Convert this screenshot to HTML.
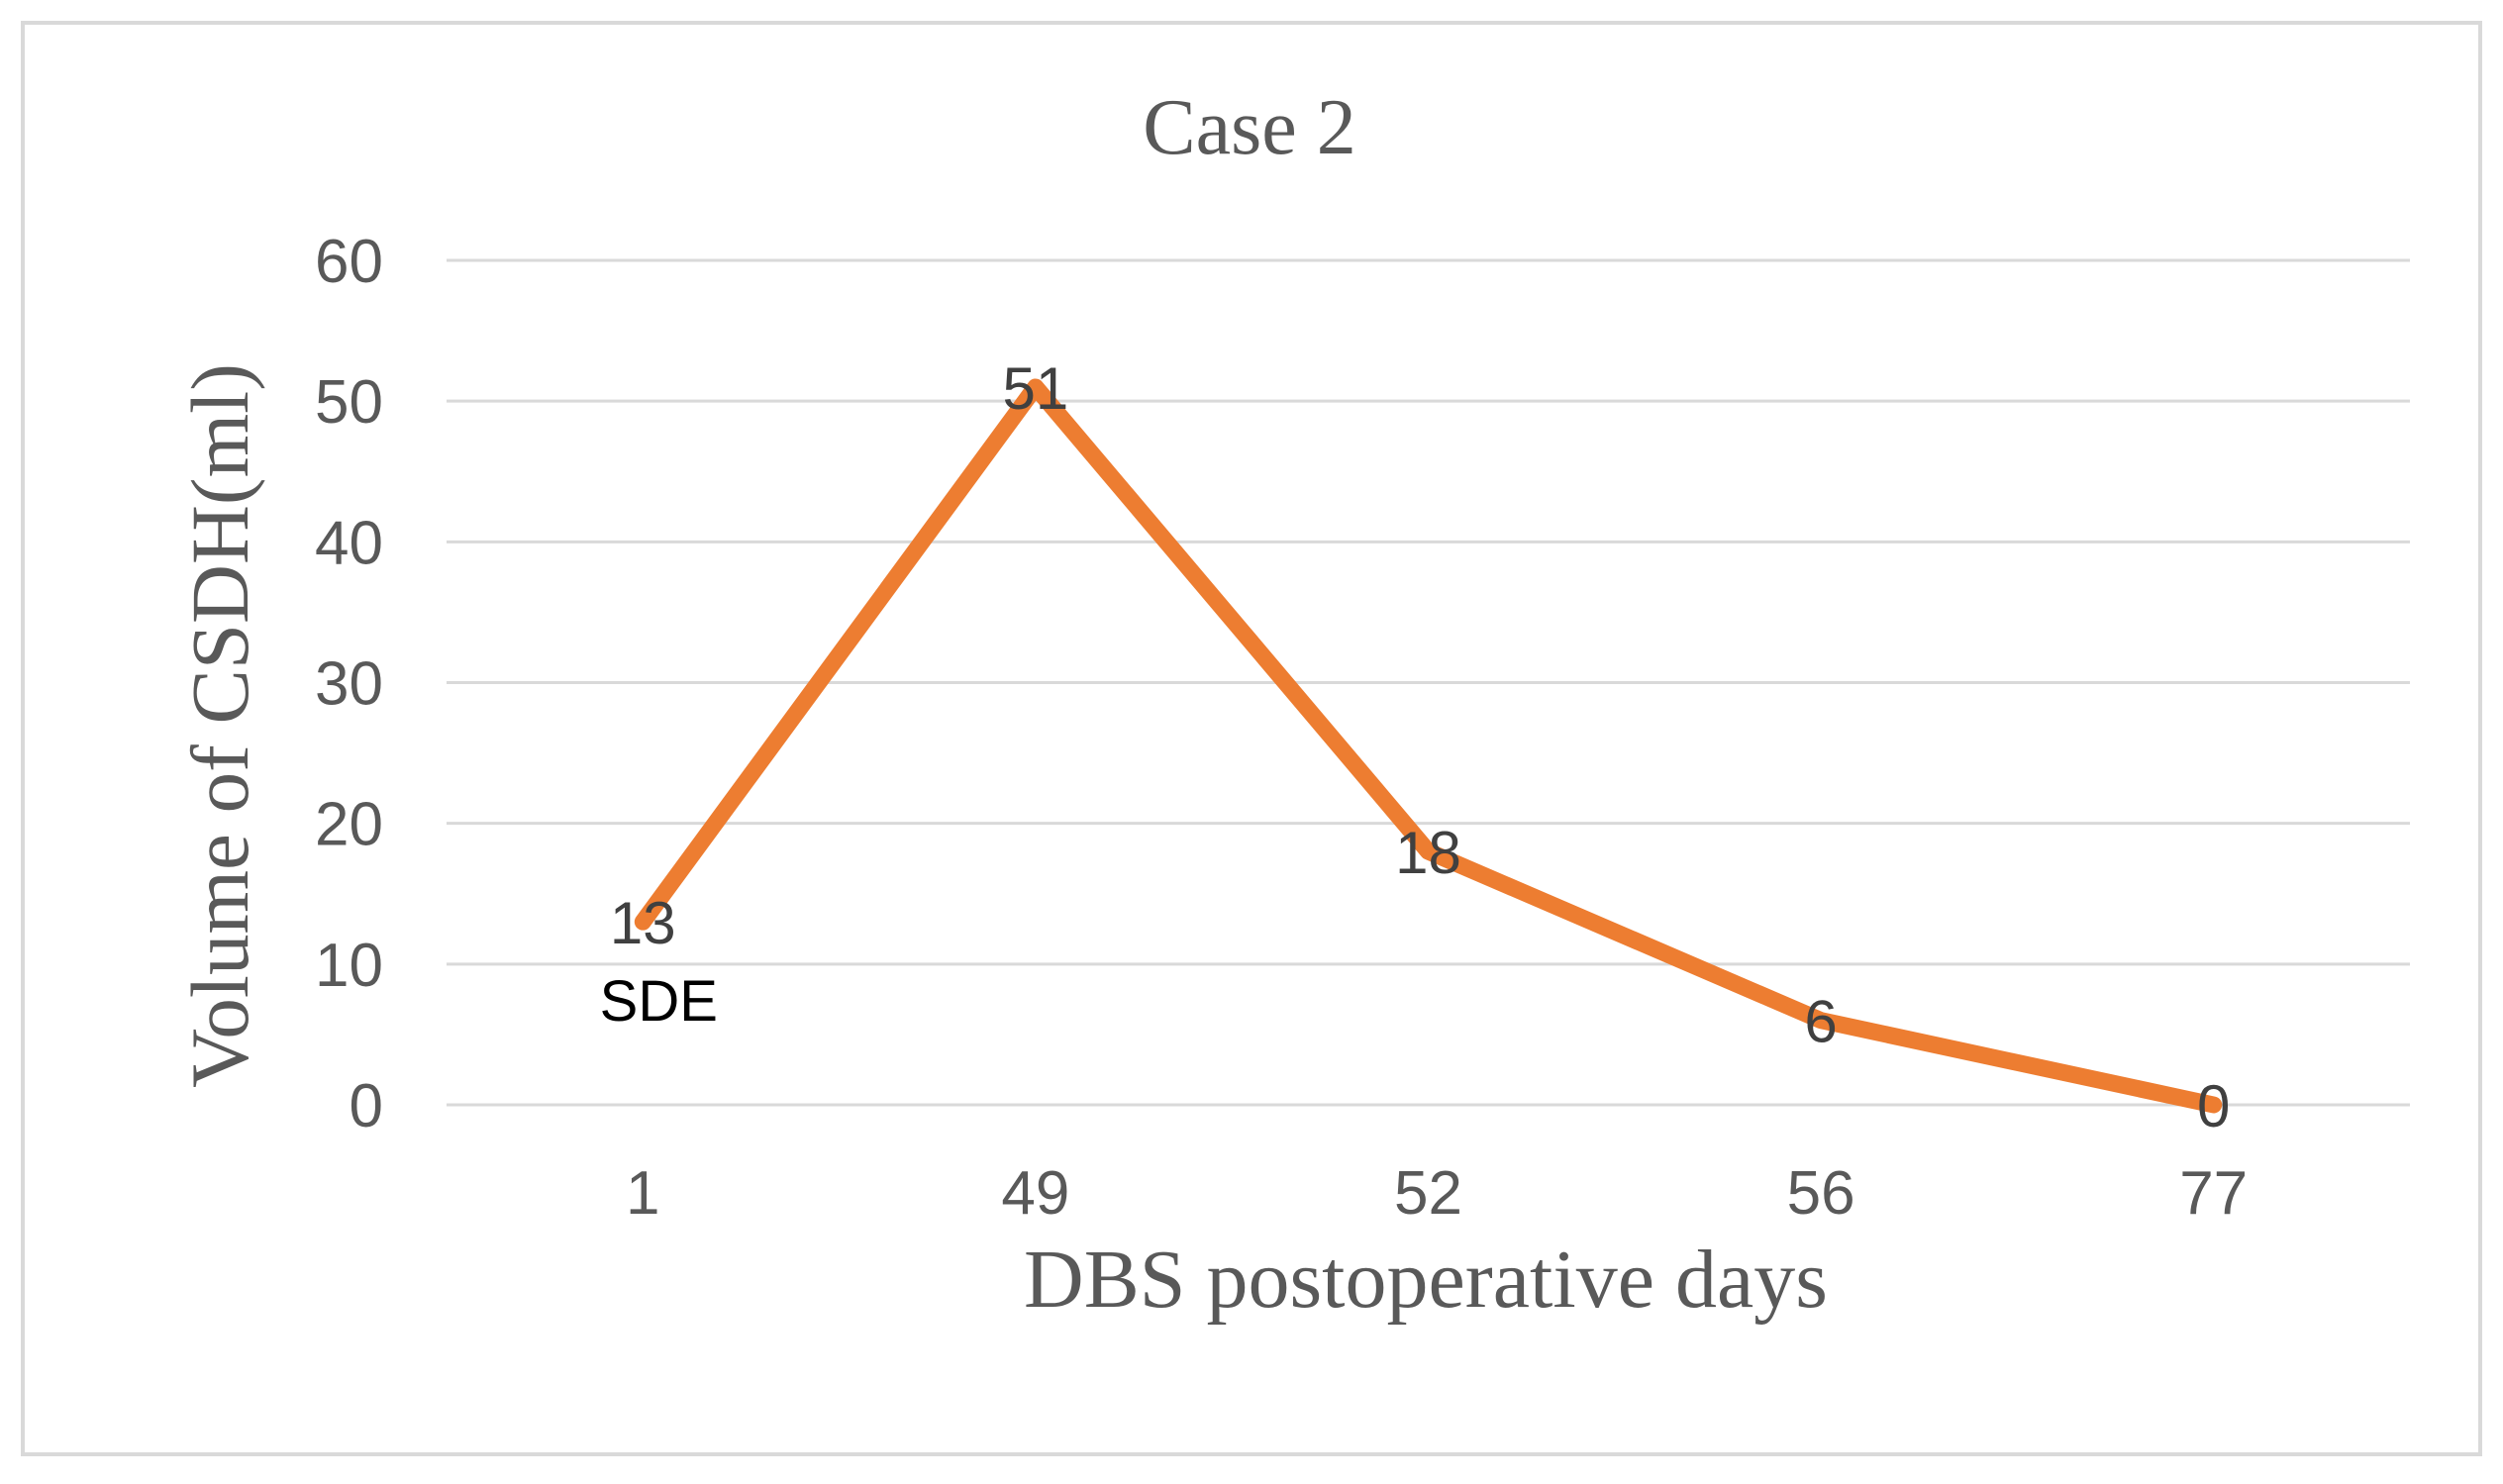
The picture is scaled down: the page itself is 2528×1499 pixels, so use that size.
<!DOCTYPE html>
<html><head><meta charset="utf-8"><style>
html,body{margin:0;padding:0;background:#fff;}
svg{display:block;}
</style></head><body>
<svg id="chart" width="2528" height="1499" viewBox="0 0 2528 1499" xmlns="http://www.w3.org/2000/svg">
<rect x="23" y="23" width="2482" height="1446" fill="#fff" stroke="#d9d9d9" stroke-width="4"/>
<text x="1262" y="155" text-anchor="middle" font-family="Liberation Serif, serif" font-size="80" fill="#595959">Case 2</text>
<g id="grid"></g>
<g id="yticks"></g>
<g id="xticks"></g>
<g id="series"></g>
<g id="labels"></g>
<text transform="translate(250,733) rotate(-90)" text-anchor="middle" font-family="Liberation Serif, serif" font-size="83" fill="#595959">Volume of CSDH(ml)</text>
<text x="1440" y="1320" text-anchor="middle" font-family="Liberation Serif, serif" font-size="84" fill="#595959">DBS postoperative days</text>
</svg>
<script>
const categories = ["1","49","52","56","77"];
const values = [13,51,18,6,0];
const yTicks = [0,10,20,30,40,50,60];
const annotations = ["SDE","","","",""];

const NS="http://www.w3.org/2000/svg";
const plotL=451, plotR=2434, yTop=263, yBot=1116, yMax=60;
const bandW=(plotR-plotL)/categories.length;
function xPos(i){return plotL+bandW*(i+0.5);}
function yPos(v){return yBot-(v/yMax)*(yBot-yTop);}
function mk(tag,attrs,parent){const e=document.createElementNS(NS,tag);for(const k in attrs)e.setAttribute(k,attrs[k]);parent.appendChild(e);return e;}

const grid=document.getElementById('grid'), yt=document.getElementById('yticks'), xt=document.getElementById('xticks');
yTicks.forEach(t=>{
  const l=mk('line',{x1:plotL,x2:plotR,y1:yPos(t),y2:yPos(t),stroke:'#d9d9d9','stroke-width':3},grid);
  
  
  const tx=mk('text',{x:387,y:yPos(t)+22,'text-anchor':'end','font-family':'Liberation Sans, sans-serif','font-size':62,fill:'#595959'},yt);
  tx.textContent=t;
  
  
});
categories.forEach((c,i)=>{
  const tx=mk('text',{x:xPos(i),y:1226,'text-anchor':'middle','font-family':'Liberation Sans, sans-serif','font-size':62,fill:'#595959'},xt);
  tx.textContent=c;
  
  
});
const pts=values.map((v,i)=>xPos(i)+','+yPos(v)).join(' ');
const pl=mk('polyline',{points:pts,fill:'none',stroke:'#ED7D31','stroke-width':17,'stroke-linejoin':'round','stroke-linecap':'round'},document.getElementById('series'));


const lb=document.getElementById('labels');
values.forEach((v,i)=>{
  const tx=mk('text',{x:xPos(i),y:yPos(v)+22,'text-anchor':'middle','font-family':'Liberation Sans, sans-serif','font-size':60,fill:'#404040'},lb);
  tx.textContent=v;
  
  
  if(annotations[i]){
    const a=mk('text',{x:xPos(i)+16,y:yPos(v)+100,'text-anchor':'middle','font-family':'Liberation Sans, sans-serif','font-size':58,fill:'#000'},lb);
    a.textContent=annotations[i];
    
    
  }
});
</script>
</body></html>
